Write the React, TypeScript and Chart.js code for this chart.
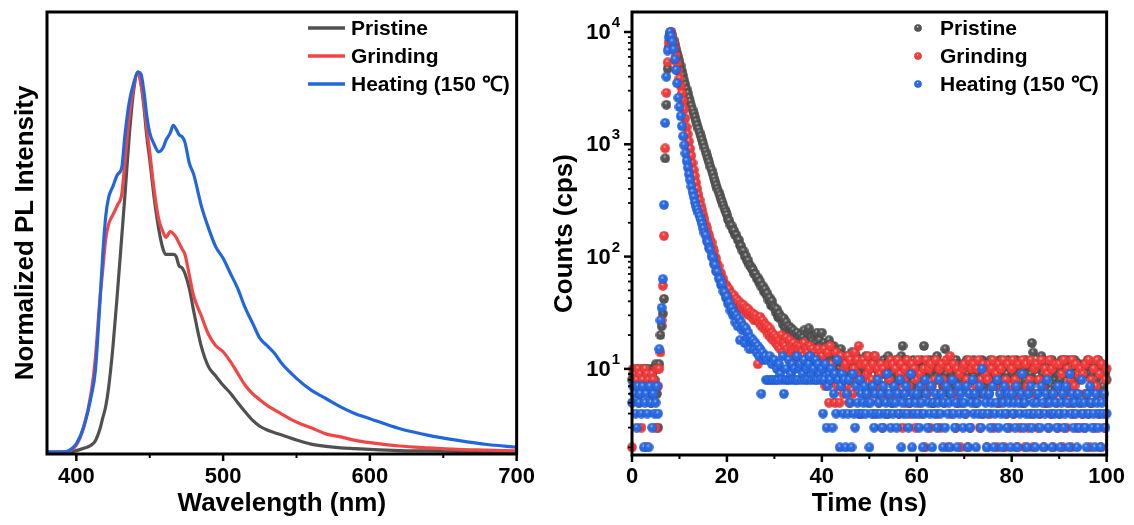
import React, { useEffect, useRef } from 'react';
import { Chart, registerables } from 'chart.js';
Chart.register(...registerables);

const FONT = '"Liberation Sans", Arial, Helvetica, sans-serif';

// ---------- shared ----------
const seriesNames = ['Pristine', 'Grinding', 'Heating (150 ℃)'];
const lineColors = ['#505050', '#f24545', '#2166dc'];
const ballColors = [
  { light: '#d8d8d8', base: '#555555', dark: '#333333' },
  { light: '#ffd0d0', base: '#f23c3c', dark: '#c42222' },
  { light: '#c8dcff', base: '#2a6ae2', dark: '#1248b0' },
];

// ---------- left panel: PL spectra ----------
const wavelengths = [380, 390, 395, 400, 405, 410, 413, 416, 418, 420, 422, 425, 428, 431, 433, 436, 439, 442, 444, 446, 448, 450, 453, 456, 459, 461, 464, 466, 468, 470, 472, 474, 477, 480, 485, 490, 495, 500, 505, 510, 515, 520, 525, 530, 535, 540, 550, 560, 570, 580, 590, 600, 620, 640, 660, 680, 700];
const plPristine = [0, 0, 0.001, 0.004, 0.01, 0.018, 0.03, 0.06, 0.09, 0.12, 0.17, 0.28, 0.42, 0.57, 0.67, 0.83, 0.95, 1.0, 0.97, 0.91, 0.83, 0.77, 0.67, 0.59, 0.535, 0.52, 0.52, 0.52, 0.515, 0.49, 0.485, 0.47, 0.43, 0.37, 0.28, 0.225, 0.2, 0.176, 0.155, 0.13, 0.106, 0.084, 0.068, 0.058, 0.051, 0.045, 0.032, 0.021, 0.015, 0.011, 0.009, 0.007, 0.004, 0.003, 0.002, 0.001, 0.001];
const plGrinding = [0, 0, 0.003, 0.018, 0.066, 0.154, 0.25, 0.4, 0.48, 0.56, 0.6, 0.625, 0.65, 0.68, 0.76, 0.88, 0.96, 1.0, 0.97, 0.92, 0.85, 0.79, 0.69, 0.615, 0.58, 0.565, 0.58, 0.575, 0.565, 0.55, 0.535, 0.52, 0.465, 0.41, 0.36, 0.31, 0.28, 0.264, 0.238, 0.207, 0.176, 0.154, 0.138, 0.123, 0.111, 0.1, 0.079, 0.064, 0.048, 0.04, 0.031, 0.025, 0.016, 0.011, 0.007, 0.005, 0.003];
const plHeating = [0, 0, 0.004, 0.022, 0.066, 0.145, 0.216, 0.39, 0.52, 0.62, 0.67, 0.7, 0.73, 0.75, 0.83, 0.92, 0.97, 1.0, 0.995, 0.95, 0.885, 0.84, 0.81, 0.79, 0.8, 0.82, 0.84, 0.86, 0.85, 0.835, 0.83, 0.815, 0.76, 0.73, 0.65, 0.59, 0.54, 0.51, 0.47, 0.43, 0.38, 0.34, 0.3, 0.28, 0.26, 0.233, 0.194, 0.163, 0.141, 0.119, 0.101, 0.088, 0.062, 0.044, 0.031, 0.02, 0.013];
const wlTicks = [400, 500, 600, 700];
const wlMinorTicks = [450, 550, 650];

// ---------- right panel: TRPL decay (counts every timeStep ns) ----------
const timeStep = 0.25;
const decayPristine = [
  8, 9, 9, 7, 10, 9, 6, 8, 10, 9, 7, 10, 10, 9, 8, 10, 6, 9, 10, 8,
  11, 6, 3, 11, 20, 24, 31, 42, 750, 2250, 4700, 7400, 9300, 10000, 9300, 8500, 7800, 7100, 6500, 6000,
  5500, 5000, 4500, 4100, 3700, 3400, 3100, 2850, 2600, 2400, 2200, 2030, 1880, 1740, 1600, 1480, 1370, 1270, 1180, 1090,
  1010, 930, 860, 800, 740, 690, 630, 590, 545, 500, 465, 430, 400, 375, 350, 325, 305, 285, 265, 250,
  235, 214, 208, 190, 188, 172, 170, 156, 155, 142, 140, 126, 124, 113, 112, 101, 101, 92, 92, 84,
  82, 78, 76, 70, 70, 64, 65, 59, 60, 54, 55, 49, 51, 46, 47, 41, 43, 37, 40, 36,
  35, 32, 34, 29, 31, 28, 29, 25, 28, 23, 26, 22, 24, 21, 23, 19, 22, 20, 18, 21,
  19, 17, 20, 16, 19, 22, 17, 18, 21, 23, 16, 19, 18, 15, 20, 17, 21, 14, 18, 16,
  21, 15, 17, 13, 16, 14, 18, 12, 15, 13, 16, 11, 14, 12, 13, 10, 15, 12, 11, 13,
  12, 10, 13, 11, 9, 14, 12, 10, 11, 13, 9, 12, 10, 11, 8, 12, 10, 13, 9, 11,
  10, 12, 7, 11, 13, 8, 10, 6, 9, 11, 10, 7, 12, 9, 11, 6, 13, 8, 10, 9,
  11, 7, 12, 10, 8, 11, 6, 13, 16, 10, 9, 12, 8, 11, 5, 9, 7, 12, 10, 9,
  11, 8, 10, 6, 12, 10, 16, 9, 11, 7, 10, 12, 9, 5, 11, 10, 8, 13, 6, 10,
  9, 11, 7, 10, 15, 9, 12, 6, 8, 11, 9, 10, 7, 12, 5, 11, 10, 8, 9, 11,
  10, 7, 12, 9, 11, 6, 10, 8, 12, 10, 5, 11, 9, 10, 6, 12, 9, 7, 8, 11,
  9, 6, 12, 8, 10, 9, 11, 7, 10, 5, 12, 8, 9, 11, 6, 10, 9, 12, 7, 8,
  11, 9, 6, 8, 12, 9, 10, 7, 11, 5, 10, 8, 12, 9, 6, 11, 9, 17, 14, 8,
  10, 6, 11, 8, 10, 13, 9, 12, 7, 5, 11, 9, 6, 10, 12, 9, 7, 8, 11, 9,
  10, 8, 12, 6, 11, 12, 10, 9, 12, 7, 9, 5, 10, 12, 9, 6, 8, 11, 9, 10,
  9, 11, 6, 10, 12, 9, 5, 7, 9, 11, 10, 8, 6, 12, 10, 9, 11, 7, 10, 9, 8,
];
const decayGrinding = [
  2, 10, 9, 7, 8, 10, 5, 9, 3, 8, 7, 10, 2, 9, 8, 7, 5, 9, 8, 7,
  3, 10, 7, 10, 14, 27, 55, 153, 920, 2870, 5370, 8130, 9700, 10000, 9200, 8100, 7100, 6200, 5300, 4500,
  3850, 3300, 2850, 2450, 2050, 1700, 1420, 1230, 1060, 910, 790, 680, 590, 520, 455, 400, 355, 318, 285, 260,
  235, 216, 193, 180, 162, 154, 139, 134, 120, 112, 99, 96, 85, 82, 72, 71, 64, 63, 57, 56,
  54, 49, 51, 45, 47, 43, 45, 40, 42, 38, 40, 35, 38, 34, 37, 33, 35, 31, 34, 30,
  32, 29, 31, 27, 30, 28, 11, 26, 29, 24, 27, 23, 25, 22, 24, 20, 23, 19, 21, 18,
  20, 17, 19, 16, 18, 15, 20, 14, 17, 16, 19, 15, 13, 18, 16, 14, 17, 15, 13, 16,
  15, 12, 16, 14, 13, 17, 12, 15, 14, 11, 16, 13, 15, 12, 14, 10, 13, 15, 12, 14,
  13, 11, 15, 7, 10, 14, 5, 16, 11, 8, 9, 5, 14, 7, 12, 5, 13, 9, 6, 10,
  11, 7, 13, 5, 12, 8, 6, 10, 14, 9, 12, 16, 4, 11, 8, 12, 6, 11, 9, 13,
  10, 6, 8, 11, 4, 13, 7, 10, 5, 9, 11, 3, 10, 6, 9, 4, 11, 8, 12, 5,
  11, 6, 10, 7, 12, 4, 9, 11, 3, 8, 10, 5, 12, 7, 9, 4, 11, 6, 10, 3,
  8, 12, 5, 9, 4, 7, 10, 2, 12, 6, 10, 3, 11, 7, 5, 8, 12, 4, 6, 10,
  3, 11, 8, 5, 7, 12, 2, 10, 13, 4, 8, 11, 6, 3, 10, 5, 9, 2, 7, 10,
  11, 4, 8, 2, 12, 3, 10, 6, 11, 5, 7, 10, 12, 3, 8, 4, 11, 6, 9, 2,
  8, 11, 4, 10, 12, 3, 7, 9, 2, 11, 5, 10, 6, 12, 2, 8, 4, 11, 3, 7,
  10, 12, 4, 8, 2, 6, 11, 3, 9, 12, 5, 2, 11, 7, 3, 8, 12, 4, 2, 10,
  6, 11, 3, 8, 4, 12, 7, 2, 10, 5, 9, 3, 12, 4, 10, 2, 6, 11, 5, 3,
  11, 4, 9, 2, 12, 6, 3, 10, 5, 8, 2, 12, 4, 7, 11, 3, 9, 5, 10, 4,
  9, 3, 11, 6, 4, 12, 2, 8, 5, 10, 3, 7, 12, 4, 9, 2, 11, 6, 3, 8, 10,
];
const decayHeating = [
  5, 7, 6, 4, 3, 7, 5, 6, 4, 7, 2, 5, 6, 4, 2, 7, 5, 3, 6, 4,
  5, 7, 4, 15, 27, 35, 63, 289, 1550, 3990, 6840, 9000, 10000, 9200, 8200, 7000, 5700, 4600, 3500, 2600,
  2150, 1780, 1450, 1180, 980, 830, 710, 620, 540, 480, 420, 375, 340, 305, 280, 262, 245, 228, 212, 195,
  178, 162, 155, 138, 133, 119, 115, 101, 98, 86, 84, 74, 73, 64, 63, 56, 57, 49, 48, 43,
  44, 38, 39, 33, 35, 30, 32, 26, 30, 24, 28, 18, 26, 22, 24, 17, 23, 19, 21, 15,
  19, 17, 18, 15, 17, 14, 16, 13, 15, 6, 14, 12, 13, 8, 12, 8, 13, 8, 11, 8,
  12, 8, 10, 8, 11, 9, 8, 13, 6, 8, 10, 8, 12, 8, 9, 11, 8, 10, 8, 13,
  8, 10, 11, 8, 9, 12, 8, 10, 8, 11, 13, 8, 9, 10, 8, 12, 8, 11, 9, 8,
  10, 4, 8, 11, 3, 7, 9, 8, 10, 3, 6, 9, 4, 12, 8, 2, 7, 9, 4, 8,
  2, 6, 4, 8, 5, 2, 9, 4, 3, 7, 5, 4, 8, 6, 4, 5, 7, 4, 6, 5,
  2, 5, 4, 7, 3, 6, 4, 8, 5, 4, 6, 3, 7, 4, 5, 9, 4, 6, 3, 5,
  4, 7, 5, 3, 6, 4, 8, 2, 5, 4, 6, 7, 4, 3, 5, 9, 2, 6, 4, 5,
  6, 4, 3, 7, 5, 2, 4, 8, 6, 3, 5, 4, 7, 2, 5, 4, 6, 3, 5, 8,
  4, 6, 2, 5, 3, 7, 4, 5, 2, 6, 8, 4, 3, 5, 2, 7, 4, 6, 5, 3,
  5, 4, 7, 2, 6, 3, 5, 8, 4, 6, 2, 5, 4, 7, 3, 10, 4, 6, 5, 2,
  4, 6, 3, 5, 7, 2, 4, 5, 8, 3, 6, 4, 2, 5, 7, 4, 3, 6, 5, 2,
  6, 4, 5, 3, 7, 2, 5, 4, 6, 9, 3, 5, 4, 2, 6, 4, 7, 3, 5, 4,
  2, 5, 6, 4, 3, 7, 5, 2, 4, 6, 8, 3, 5, 4, 2, 6, 4, 5, 3, 7,
  4, 2, 5, 6, 3, 4, 7, 5, 2, 9, 4, 6, 3, 5, 4, 2, 6, 3, 5, 8,
  4, 5, 3, 2, 6, 4, 7, 5, 3, 4, 2, 6, 5, 3, 4, 2, 5, 4, 6, 3, 4,
];
const timeTicks = [0, 20, 40, 60, 80, 100];
const timeMinorTicks = [10, 30, 50, 70, 90];
const countDecades = [1, 2, 3, 4];
const countMinorMantissas = [2, 3, 4, 5, 6, 7, 8, 9];

// ---------- helpers ----------
function makeBall(c: { light: string; base: string; dark: string }, d: number) {
  const cv = document.createElement('canvas');
  cv.width = d;
  cv.height = d;
  const g = cv.getContext('2d')!;
  const r = d / 2;
  const grad = g.createRadialGradient(r * 0.85, r * 0.6, 0, r, r, r);
  grad.addColorStop(0, c.light);
  grad.addColorStop(0.32, c.base);
  grad.addColorStop(0.8, c.base);
  grad.addColorStop(1, c.dark);
  g.fillStyle = grad;
  g.beginPath();
  g.arc(r, r, r - 0.2, 0, Math.PI * 2);
  g.fill();
  return cv;
}

function drawTick(ctx: CanvasRenderingContext2D, x1: number, y1: number, x2: number, y2: number, w: number) {
  ctx.lineWidth = w;
  ctx.beginPath();
  ctx.moveTo(x1, y1);
  ctx.lineTo(x2, y2);
  ctx.stroke();
}

const framePlugin = (opts: { xMajor: number[]; xMinor: number[]; logY?: boolean }) => ({
  id: 'frameTicks',
  afterDraw(chart: any) {
    const { ctx, chartArea: a, scales } = chart;
    ctx.save();
    ctx.strokeStyle = '#000';
    ctx.lineCap = 'butt';
    const xs = scales.x;
    opts.xMajor.forEach((v) => {
      const px = xs.getPixelForValue(v);
      drawTick(ctx, px, a.bottom, px, a.bottom + 7, 2.5);
    });
    opts.xMinor.forEach((v) => {
      const px = xs.getPixelForValue(v);
      drawTick(ctx, px, a.bottom, px, a.bottom + 4, 2);
    });
    if (opts.logY) {
      const ys = scales.y;
      countDecades.forEach((e) => {
        const py = ys.getPixelForValue(Math.pow(10, e));
        drawTick(ctx, a.left - 8, py, a.left, py, 2.5);
        ctx.fillStyle = '#000';
        ctx.textBaseline = 'middle';
        ctx.textAlign = 'right';
        ctx.font = `bold 15px ${FONT}`;
        const exp = String(e);
        const ew = ctx.measureText(exp).width;
        const xr = a.left - 12;
        ctx.fillText(exp, xr, py - 9);
        ctx.font = `bold 22px ${FONT}`;
        ctx.fillText('10', xr - ew - 1, py + 1);
      });
      [0, 1, 2, 3].forEach((e) => {
        countMinorMantissas.forEach((m) => {
          const v = m * Math.pow(10, e);
          if (v < ys.min || v > ys.max) return;
          const py = ys.getPixelForValue(v);
          drawTick(ctx, a.left - 4, py, a.left, py, 1.8);
        });
      });
    }
    ctx.lineWidth = 3;
    ctx.strokeRect(a.left, a.top, a.right - a.left, a.bottom - a.top);
    ctx.restore();
  },
});

const legendPlugin = (kind: 'line' | 'ball', balls?: HTMLCanvasElement[]) => ({
  id: 'customLegend',
  afterDraw(chart: any) {
    const { ctx, chartArea: a } = chart;
    ctx.save();
    ctx.font = `bold 21px ${FONT}`;
    ctx.fillStyle = '#000';
    ctx.textBaseline = 'middle';
    ctx.textAlign = 'left';
    seriesNames.forEach((name, i) => {
      const y = a.top + 16 + i * 28;
      if (kind === 'line') {
        ctx.strokeStyle = lineColors[i];
        ctx.lineWidth = 3.5;
        ctx.beginPath();
        ctx.moveTo(a.left + 261, y);
        ctx.lineTo(a.left + 298, y);
        ctx.stroke();
        ctx.fillText(name, a.left + 304, y + 1);
      } else if (balls) {
        const b = balls[i];
        ctx.drawImage(b, a.left + 286 - b.width / 2, y - b.height / 2);
        ctx.fillText(name, a.left + 308, y + 1);
      }
    });
    ctx.restore();
  },
});

const tickFont = { family: FONT, size: 22, weight: 'bold' as const };
const titleFont = { family: FONT, size: 26, weight: 'bold' as const };

export default function App() {
  const leftRef = useRef<HTMLCanvasElement>(null);
  const rightRef = useRef<HTMLCanvasElement>(null);

  useEffect(() => {
    const plSeries = [plPristine, plGrinding, plHeating];
    const left = new Chart(leftRef.current!, {
      type: 'line',
      data: {
        datasets: plSeries.map((arr, i) => ({
          label: seriesNames[i],
          data: arr.map((v, k) => ({ x: wavelengths[k], y: v })),
          borderColor: lineColors[i],
          backgroundColor: lineColors[i],
          borderWidth: 3.2,
          pointRadius: 0,
          cubicInterpolationMode: 'monotone' as const,
          order: 3 - i,
          clip: 2,
        })),
      },
      options: {
        responsive: false,
        animation: false,
        layout: { padding: { left: 0, right: 25, top: 12, bottom: 0 } },
        plugins: { legend: { display: false }, tooltip: { enabled: false } },
        scales: {
          x: {
            type: 'linear',
            min: 380,
            max: 700,
            grid: { display: false, drawTicks: false },
            border: { display: false },
            afterBuildTicks: (s: any) => {
              s.ticks = wlTicks.map((v) => ({ value: v }));
            },
            ticks: { font: tickFont, color: '#000', padding: 10, maxRotation: 0, autoSkip: false },
            title: { display: true, text: 'Wavelength (nm)', font: titleFont, color: '#000', padding: { top: 0, bottom: 6 } },
            afterFit: (s: any) => {
              s.height = 71;
            },
          },
          y: {
            type: 'linear',
            min: -0.005,
            max: 1.158,
            grid: { display: false, drawTicks: false },
            border: { display: false },
            ticks: { display: false },
            title: { display: true, text: 'Normalized PL Intensity', font: titleFont, color: '#000', padding: { top: 10, bottom: 0 } },
            afterFit: (s: any) => {
              s.width = 47;
            },
          },
        },
      },
      plugins: [framePlugin({ xMajor: wlTicks, xMinor: wlMinorTicks }), legendPlugin('line')],
    } as any);

    const balls = ballColors.map((c) => makeBall(c, 10));
    const legendBalls = ballColors.map((c) => makeBall(c, 8));
    const decaySeries = [decayPristine, decayGrinding, decayHeating];
    const right = new Chart(rightRef.current!, {
      type: 'scatter',
      data: {
        datasets: decaySeries.map((arr, i) => ({
          label: seriesNames[i],
          data: arr.map((v, k) => ({ x: k * timeStep, y: v })),
          pointStyle: balls[i],
          pointRadius: 5,
          showLine: false,
          order: 3 - i,
          clip: 5,
        })),
      },
      options: {
        responsive: false,
        animation: false,
        layout: { padding: { left: 0, right: 25, top: 12, bottom: 0 } },
        plugins: { legend: { display: false }, tooltip: { enabled: false } },
        scales: {
          x: {
            type: 'linear',
            min: 0,
            max: 100,
            grid: { display: false, drawTicks: false },
            border: { display: false },
            afterBuildTicks: (s: any) => {
              s.ticks = timeTicks.map((v) => ({ value: v }));
            },
            ticks: { font: tickFont, color: '#000', padding: 9, maxRotation: 0, autoSkip: false },
            title: { display: true, text: 'Time (ns)', font: titleFont, color: '#000', padding: { top: 0, bottom: 6 } },
            afterFit: (s: any) => {
              s.height = 70;
            },
          },
          y: {
            type: 'logarithmic',
            min: 1.71,
            max: 15070,
            grid: { display: false, drawTicks: false },
            border: { display: false },
            ticks: { display: false },
            title: { display: true, text: 'Counts (cps)', font: titleFont, color: '#000', padding: { top: 4, bottom: 0 } },
            afterFit: (s: any) => {
              s.width = 87;
            },
          },
        },
      },
      plugins: [framePlugin({ xMajor: timeTicks, xMinor: timeMinorTicks, logY: true }), legendPlugin('ball', legendBalls)],
    } as any);

    return () => {
      left.destroy();
      right.destroy();
    };
  }, []);

  return (
    <div style={{ position: 'fixed', left: 0, top: 0, width: 1134, height: 525, background: '#fff', overflow: 'hidden' }}>
      <canvas ref={leftRef} width={545} height={525} style={{ position: 'absolute', left: 0, top: 0, width: 545, height: 525 }} />
      <canvas ref={rightRef} width={589} height={525} style={{ position: 'absolute', left: 545, top: 0, width: 589, height: 525 }} />
    </div>
  );
}
